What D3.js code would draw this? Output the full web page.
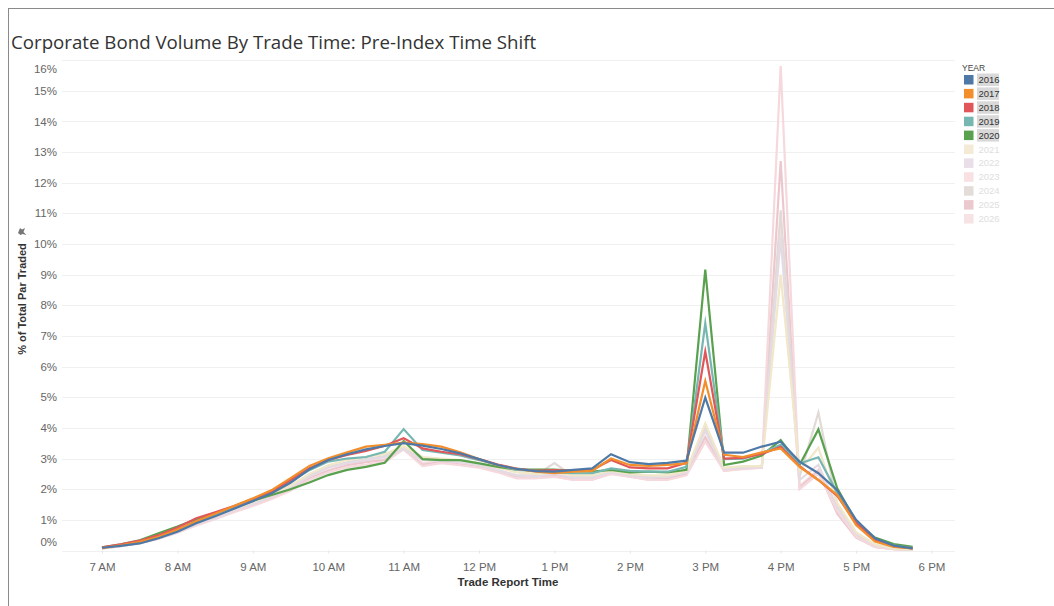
<!DOCTYPE html>
<html>
<head>
<meta charset="utf-8">
<script src="https://cdn.jsdelivr.net/npm/d3@7"></script>
<style>
  html, body { margin: 0; padding: 0; background: #ffffff; }
  svg { display: block; }
</style>
</head>
<body>
<svg id="chart" width="1054" height="606"></svg>
<script>
// ---------------- DATA ----------------
const times = ["7:00","7:15","7:30","7:45","8:00","8:15","8:30","8:45","9:00","9:15","9:30","9:45",
  "10:00","10:15","10:30","10:45","11:00","11:15","11:30","11:45","12:00","12:15","12:30","12:45",
  "13:00","13:15","13:30","13:45","14:00","14:15","14:30","14:45","15:00","15:15","15:30","15:45",
  "16:00","16:15","16:30","16:45","17:00","17:15","17:30","17:45"];

const tickHours = ["7:00","8:00","9:00","10:00","11:00","12:00","13:00","14:00","15:00","16:00","17:00","18:00"];
const tickLabels = ["7 AM","8 AM","9 AM","10 AM","11 AM","12 PM","1 PM","2 PM","3 PM","4 PM","5 PM","6 PM"];
const yTicks = [0,1,2,3,4,5,6,7,8,9,10,11,12,13,14,15,16];

const years = ["2016","2017","2018","2019","2020","2021","2022","2023","2024","2025","2026"];
const highlighted = ["2016","2017","2018","2019","2020"];
const lineColors = ["#4e79a7","#f28e2b","#e15759","#76b7b2","#59a14f",
  "#f1e7c9","#e5dbe5","#f5d9dd","#e1dad6","#ecc8ce","#f6e0e3"];
const legendColors = ["#4e79a7","#f28e2b","#e15759","#76b7b2","#59a14f",
  "#f3ebd5","#e8dfe8","#f8e0e3","#e3ddd9","#ecc9cf","#f7e2e4"];

// % of total par traded, per 15-minute bucket
const v2016 = [0.09,0.15,0.23,0.40,0.61,0.89,1.12,1.36,1.61,1.87,2.21,2.65,2.95,3.14,3.30,3.41,3.50,
  3.42,3.31,3.17,2.98,2.79,2.66,2.59,2.57,2.63,2.68,3.14,2.88,2.82,2.86,2.93,
  4.99,3.19,3.19,3.39,3.55,2.90,2.52,1.97,1.00,0.40,0.16,0.07];
const v2017 = [0.08,0.17,0.28,0.45,0.68,0.95,1.20,1.45,1.70,1.97,2.36,2.76,3.01,3.20,3.39,3.45,3.52,
  3.47,3.39,3.20,2.98,2.78,2.66,2.57,2.52,2.57,2.60,3.00,2.79,2.76,2.79,2.84,
  5.53,3.12,3.05,3.20,3.33,2.73,2.30,1.81,0.83,0.29,0.12,0.07];
const v2018 = [0.10,0.20,0.32,0.50,0.75,1.05,1.25,1.45,1.68,1.93,2.30,2.68,2.95,3.12,3.25,3.42,3.66,
  3.33,3.22,3.14,2.98,2.80,2.67,2.60,2.62,2.60,2.63,2.95,2.71,2.68,2.68,2.86,
  6.49,3.00,3.02,3.15,3.38,2.75,2.30,1.78,0.90,0.33,0.13,0.07];
const v2019 = [0.09,0.17,0.28,0.45,0.68,0.95,1.18,1.42,1.65,1.90,2.25,2.62,2.90,3.00,3.05,3.22,3.96,
  3.28,3.19,3.10,2.95,2.78,2.63,2.60,2.55,2.52,2.52,2.68,2.60,2.57,2.57,2.73,
  7.41,2.98,3.00,3.18,3.45,2.84,3.04,1.88,0.95,0.36,0.16,0.08];
const v2020 = [0.10,0.20,0.33,0.56,0.78,1.02,1.22,1.42,1.62,1.81,2.00,2.22,2.46,2.63,2.73,2.86,3.57,
  2.98,2.95,2.95,2.84,2.73,2.64,2.64,2.64,2.60,2.57,2.63,2.55,2.57,2.55,2.63,
  9.16,2.79,2.90,3.10,3.60,2.79,3.95,2.03,0.94,0.42,0.21,0.12];
const v2021 = [0.08,0.16,0.27,0.43,0.64,0.90,1.12,1.35,1.58,1.82,2.12,2.50,2.78,2.95,3.05,3.15,3.40,
  3.05,3.00,2.95,2.85,2.70,2.55,2.50,2.55,2.45,2.45,2.60,2.50,2.45,2.45,2.60,
  4.15,2.70,2.75,2.75,9.00,2.60,3.35,1.55,0.60,0.20,0.07,0.03];
const v2022 = [0.07,0.15,0.25,0.40,0.60,0.85,1.07,1.30,1.52,1.76,2.05,2.42,2.70,2.85,2.95,3.05,3.30,
  2.95,2.92,2.88,2.78,2.62,2.45,2.42,2.50,2.38,2.38,2.55,2.45,2.38,2.40,2.55,
  3.90,2.65,2.70,2.72,10.20,2.30,2.80,1.40,0.55,0.17,0.06,0.03];
const v2023 = [0.07,0.14,0.24,0.38,0.58,0.82,1.02,1.25,1.45,1.68,1.95,2.30,2.55,2.72,2.80,2.88,3.30,
  2.75,2.85,2.78,2.70,2.55,2.35,2.35,2.40,2.30,2.30,2.50,2.42,2.30,2.30,2.45,
  3.55,2.60,2.65,2.70,15.80,2.00,2.50,1.30,0.45,0.12,0.04,0.02];
const v2024 = [0.07,0.15,0.26,0.41,0.62,0.87,1.10,1.32,1.55,1.78,2.08,2.45,2.72,2.88,2.98,3.08,3.35,
  3.00,2.95,2.90,2.80,2.62,2.45,2.45,2.85,2.42,2.40,2.58,2.48,2.40,2.42,2.58,
  4.00,2.70,2.72,2.75,11.10,2.40,4.50,1.50,0.50,0.15,0.05,0.02];
const v2025 = [0.07,0.14,0.25,0.39,0.60,0.84,1.05,1.28,1.50,1.72,2.00,2.35,2.60,2.78,2.88,2.95,3.30,
  2.80,2.88,2.80,2.72,2.58,2.40,2.40,2.45,2.32,2.32,2.52,2.42,2.32,2.35,2.50,
  3.70,2.60,2.68,2.70,12.70,2.05,2.60,1.20,0.42,0.12,0.04,0.02];
const v2026 = [0.07,0.15,0.25,0.40,0.60,0.85,1.06,1.28,1.50,1.73,2.02,2.38,2.62,2.80,2.90,2.98,3.30,
  2.85,2.90,2.82,2.72,2.58,2.38,2.38,2.42,2.30,2.32,2.50,2.40,2.30,2.32,2.48,
  3.60,2.62,2.68,2.70,10.60,2.10,2.65,1.25,0.45,0.12,0.04,0.02];

const seriesValues = [v2016,v2017,v2018,v2019,v2020,v2021,v2022,v2023,v2024,v2025,v2026];

// ---------------- CHART ----------------
const svg = d3.select("#chart");
const parseT = d3.timeParse("%H:%M");

const plot = { left: 62, right: 955, top: 60, bottom: 550.5 };

const x = d3.scaleTime()
  .domain([parseT("7:00"), parseT("18:00")])
  .range([102, 931.5]);

const y = d3.scaleLinear().domain([0, 16]).range([plot.bottom, plot.top]);

// frame lines
svg.append("line").attr("x1", 8).attr("x2", 1054).attr("y1", 8.5).attr("y2", 8.5)
  .attr("stroke", "#8a8a8a").attr("stroke-width", 1);
svg.append("line").attr("x1", 8.5).attr("x2", 8.5).attr("y1", 8).attr("y2", 606)
  .attr("stroke", "#8a8a8a").attr("stroke-width", 1);

// title
svg.append("text")
  .attr("x", 11).attr("y", 49)
  .attr("font-family", "'Open Sans', 'Noto Sans', sans-serif")
  .attr("font-size", 18.7)
  .attr("fill", "#333333")
  .text("Corporate Bond Volume By Trade Time: Pre-Index Time Shift");

// gridlines
svg.append("g").selectAll("line").data(yTicks).join("line")
  .attr("x1", plot.left).attr("x2", plot.right)
  .attr("y1", d => Math.round(y(d)) + 0.5).attr("y2", d => Math.round(y(d)) + 0.5)
  .attr("stroke", "#f0f0f0").attr("stroke-width", 1);

// y axis
const yAxis = svg.append("g")
  .attr("transform", `translate(${plot.left},0)`)
  .call(d3.axisLeft(y).tickValues(yTicks).tickSize(0).tickPadding(5).tickFormat(d => d + "%"));
yAxis.select(".domain").remove();
yAxis.selectAll("text")
  .attr("font-family", "'Liberation Sans', Arial, sans-serif")
  .attr("font-size", 11.5)
  .attr("fill", "#666666");
yAxis.selectAll(".tick").filter(d => d === 0).select("text").attr("dy", "-0.45em");
yAxis.selectAll(".tick").filter(d => d === 16).select("text").attr("dy", "1.1em");

// y title
const yt = svg.append("g").attr("transform", "translate(26,299) rotate(-90)");
yt.append("text")
  .attr("text-anchor", "middle")
  .attr("font-family", "'Liberation Sans', Arial, sans-serif")
  .attr("font-size", 11)
  .attr("font-weight", "bold")
  .attr("fill", "#333333")
  .text("% of Total Par Traded");
// pin icon
yt.append("path")
  .attr("d", "M66,-8 l5,2 l-1.5,2 l1.5,3 l-4,-1.5 l-3,3 l1,-4 l-1,-2 z")
  .attr("fill", "#777777");

// x axis
const tickDates = tickHours.map(parseT);
const xAxis = svg.append("g")
  .attr("transform", `translate(0,${plot.bottom})`)
  .call(d3.axisBottom(x).tickValues(tickDates).tickSize(3).tickPadding(9)
    .tickFormat((d, i) => tickLabels[i]));
xAxis.select(".domain").remove();
xAxis.selectAll("line").attr("stroke", "#e6e6e6");
xAxis.selectAll("text")
  .attr("font-family", "'Liberation Sans', Arial, sans-serif")
  .attr("font-size", 11.5)
  .attr("fill", "#666666");

svg.append("text")
  .attr("x", 508).attr("y", 586)
  .attr("text-anchor", "middle")
  .attr("font-family", "'Liberation Sans', Arial, sans-serif")
  .attr("font-size", 11.5)
  .attr("font-weight", "bold")
  .attr("fill", "#333333")
  .text("Trade Report Time");

// lines
const line = d3.line()
  .x((d, i) => x(parseT(times[i])))
  .y(d => y(d));

const order = [10, 9, 8, 7, 6, 5, 4, 3, 2, 1, 0];
const linesG = svg.append("g").attr("fill", "none");
order.forEach(k => {
  linesG.append("path")
    .datum(seriesValues[k])
    .attr("d", line)
    .attr("stroke", lineColors[k])
    .attr("stroke-width", 2.2)
    .attr("stroke-linejoin", "miter")
    .attr("stroke-miterlimit", 10);
});

// legend
const lg = svg.append("g");
lg.append("text").attr("x", 962).attr("y", 71)
  .attr("font-family", "'Liberation Sans', Arial, sans-serif")
  .attr("font-size", 8.5).attr("fill", "#444444").text("YEAR");
years.forEach((yr, i) => {
  const cy = 79.5 + i * 13.9;
  const hi = highlighted.includes(yr);
  lg.append("rect").attr("x", 964).attr("y", cy - 4.5).attr("width", 9.5).attr("height", 9.5)
    .attr("fill", legendColors[i]);
  if (hi) {
    lg.append("rect").attr("x", 977).attr("y", cy - 6).attr("width", 22).attr("height", 12.5)
      .attr("fill", "#d9d9d9");
  }
  lg.append("text").attr("x", 978.5).attr("y", cy + 3.5)
    .attr("font-family", "'Liberation Sans', Arial, sans-serif")
    .attr("font-size", 9.5)
    .attr("fill", hi ? "#333333" : "#dedede")
    .text(yr);
});
</script>
</body>
</html>
